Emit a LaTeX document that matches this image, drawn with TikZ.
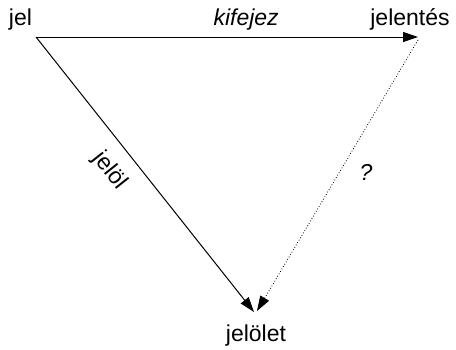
\documentclass[tikz,border=0pt]{standalone}
\usepackage{fontspec}
\setmainfont{Liberation Sans}
\usetikzlibrary{arrows.meta,positioning}

\begin{document}
\begin{tikzpicture}[x=1pt,y=-1pt,
  lbl/.style={font=\fontsize{23}{27}\selectfont,inner sep=0pt},
  arr/.style={-{Triangle[length=15pt,width=10pt]},line width=1pt},
  dotarr/.style={-{Triangle[length=15pt,width=10pt]},line width=0.8pt,dotted}]
  \useasboundingbox (0,0) rectangle (456,349);
  % ---------- corners of the triangle
  \coordinate (jel) at (36,37);
  \coordinate (jelentes) at (418,37);
  \coordinate (jelolet) at (254,312);
  \coordinate (jelentes2) at (418,40);
  \coordinate (jelolet2) at (257,311);
  % ---------- texts
  \node[lbl,anchor=base] (jeltxt) at (20.5,25) {jel};
  \node[lbl,anchor=base] (jelentestxt) at (410,25) {jelentés};
  \node[lbl,anchor=base] (jelolettxt) at (256,341) {jelölet};
  % ---------- arrows
  \draw[arr] (jel) -- node[lbl,anchor=base,pos=0.55,yshift=12pt] (kifejez) {\itshape kifejez} (jelentes);
  \draw[arr] (jel) -- node[lbl,sloped,pos=0.43,below=14pt] (jelol) {jelöl} (jelolet);
  \draw[dotarr] (jelentes2) -- node[lbl,pos=0.49,right=20pt] (kerdes) {\itshape ?} (jelolet2);
\end{tikzpicture}
\end{document}
